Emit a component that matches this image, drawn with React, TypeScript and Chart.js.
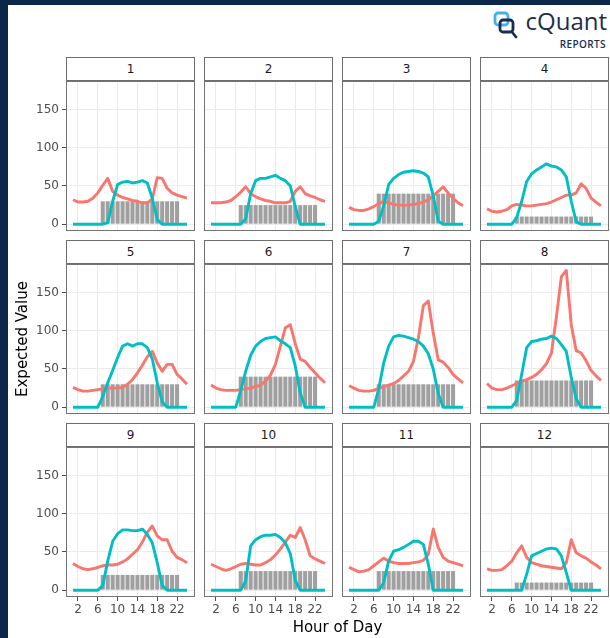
import React, { useEffect, useRef } from "react";
import { Chart, registerables } from "chart.js";

Chart.register(...registerables);

const FONT = "'DejaVu Sans', 'Liberation Sans', sans-serif";

// ---------- data ----------
const HOURS = [1, 2, 3, 4, 5, 6, 7, 8, 9, 10, 11, 12, 13, 14, 15, 16, 17, 18, 19, 20, 21, 22, 23, 24];
const BAR_HOURS = [7, 8, 9, 10, 11, 12, 13, 14, 15, 16, 17, 18, 19, 20, 21, 22];
const X_TICKS = [2, 6, 10, 14, 18, 22];
const Y_TICKS = [0, 50, 100, 150];
const PANEL_LABELS = ["1", "2", "3", "4", "5", "6", "7", "8", "9", "10", "11", "12"];
const BAR_LEVEL = [30, 25, 40, 10, 30, 40, 30, 35, 20, 25, 25, 10];

const red01 = [32, 29, 29, 30, 34, 41, 51, 60, 43, 38, 35, 33, 31, 30, 28, 28, 33, 61, 60, 47, 41, 38, 36, 34];
const red02 = [28, 28, 28, 29, 31, 36, 42, 49, 40, 36, 33, 31, 30, 28, 28, 28, 30, 43, 49, 40, 37, 35, 32, 30];
const red03 = [22, 19, 18, 18, 20, 23, 27, 30, 28, 26, 25, 25, 25, 26, 27, 29, 32, 37, 43, 49, 41, 34, 28, 24];
const red04 = [20, 17, 16, 17, 19, 24, 26, 25, 24, 24, 25, 26, 27, 29, 32, 35, 38, 38, 41, 53, 47, 34, 29, 24];
const red05 = [26, 23, 21, 21, 22, 23, 24, 25, 25, 25, 26, 30, 36, 45, 55, 66, 73, 58, 47, 56, 56, 43, 37, 30];
const red06 = [29, 25, 23, 22, 22, 22, 23, 24, 25, 27, 29, 34, 42, 56, 80, 104, 108, 83, 63, 60, 52, 45, 38, 32];
const red07 = [28, 25, 22, 21, 21, 22, 25, 27, 29, 31, 35, 41, 47, 60, 91, 133, 139, 97, 62, 59, 52, 43, 37, 32];
const red08 = [31, 25, 23, 23, 25, 28, 31, 34, 36, 39, 43, 49, 57, 71, 118, 171, 179, 108, 74, 71, 61, 48, 41, 35];
const red09 = [35, 31, 28, 27, 28, 30, 32, 33, 33, 34, 37, 41, 47, 53, 63, 76, 84, 71, 66, 66, 51, 43, 40, 36];
const red10 = [34, 31, 28, 26, 28, 31, 34, 35, 34, 33, 33, 36, 40, 46, 54, 63, 72, 69, 82, 66, 45, 41, 38, 35];
const red11 = [30, 27, 24, 25, 27, 32, 37, 42, 38, 36, 35, 35, 35, 36, 37, 39, 47, 80, 56, 43, 38, 36, 34, 32];
const red12 = [28, 26, 26, 27, 32, 38, 49, 58, 43, 36, 34, 32, 31, 30, 29, 28, 36, 66, 49, 45, 42, 37, 33, 28];

const teal01 = [0, 0, 0, 0, 0, 0, 0, 2, 30, 52, 55, 56, 54, 55, 57, 54, 34, 6, 0, 0, 0, 0, 0, 0];
const teal02 = [0, 0, 0, 0, 0, 0, 0, 7, 40, 57, 60, 60, 62, 64, 60, 57, 50, 23, 0, 0, 0, 0, 0, 0];
const teal03 = [0, 0, 0, 0, 0, 0, 4, 24, 52, 60, 65, 68, 69, 70, 69, 67, 62, 37, 4, 0, 0, 0, 0, 0];
const teal04 = [0, 0, 0, 0, 0, 0, 9, 30, 56, 66, 71, 75, 79, 76, 75, 71, 62, 30, 3, 0, 0, 0, 0, 0];
const teal05 = [0, 0, 0, 0, 0, 0, 14, 32, 48, 65, 80, 83, 80, 83, 83, 78, 63, 32, 7, 0, 0, 0, 0, 0];
const teal06 = [0, 0, 0, 0, 0, 0, 22, 47, 68, 80, 86, 90, 91, 92, 87, 83, 78, 54, 19, 0, 0, 0, 0, 0];
const teal07 = [0, 0, 0, 0, 0, 0, 24, 58, 80, 92, 94, 93, 91, 89, 86, 80, 70, 50, 18, 0, 0, 0, 0, 0];
const teal08 = [0, 0, 0, 0, 0, 0, 9, 43, 78, 86, 87, 89, 90, 93, 90, 82, 73, 39, 11, 0, 0, 0, 0, 0];
const teal09 = [0, 0, 0, 0, 0, 0, 6, 38, 64, 74, 79, 79, 78, 78, 80, 73, 62, 36, 6, 0, 0, 0, 0, 0];
const teal10 = [0, 0, 0, 0, 0, 0, 0, 12, 58, 66, 70, 72, 72, 73, 69, 62, 48, 13, 0, 0, 0, 0, 0, 0];
const teal11 = [0, 0, 0, 0, 0, 0, 0, 10, 38, 51, 53, 56, 60, 64, 64, 60, 34, 0, 0, 0, 0, 0, 0, 0];
const teal12 = [0, 0, 0, 0, 0, 0, 0, 0, 21, 45, 48, 51, 54, 55, 54, 45, 23, 0, 0, 0, 0, 0, 0, 0];

const RED_SERIES = [red01, red02, red03, red04, red05, red06, red07, red08, red09, red10, red11, red12];
const TEAL_SERIES = [teal01, teal02, teal03, teal04, teal05, teal06, teal07, teal08, teal09, teal10, teal11, teal12];

// ---------- layout ----------
const COL_LEFT = [66, 204, 342, 480];
const ROW_TOP = [81, 264, 447];
const PW = 129;
const PH = 150;
const STRIP_H = 24;
const YW = 44;
const XH = 24;

const NAVY = "#0c2749";
const LOGO_NAVY = "#1d2d50";

const panelBorder = {
  id: "panelBorder",
  afterDatasetsDraw(chart: any) {
    const { ctx, chartArea } = chart;
    const { left, top, right, bottom } = chartArea;
    ctx.save();
    ctx.strokeStyle = "#747474";
    ctx.lineWidth = 1;
    ctx.strokeRect(left + 0.5, top + 0.5, right - left - 1, bottom - top - 1);
    ctx.restore();
  },
};

function Panel({ idx }: { idx: number }) {
  const ref = useRef<HTMLCanvasElement>(null);
  const row = Math.floor(idx / 4);
  const col = idx % 4;
  const showY = col === 0;
  const showX = row === 2;
  const w = PW + (showY ? YW : 0);
  const h = PH + (showX ? XH : 0);

  useEffect(() => {
    const canvas = ref.current;
    if (!canvas) return;
    const chart = new Chart(canvas, {
      type: "line",
      data: {
        datasets: [
          {
            type: "line",
            label: "teal",
            data: HOURS.map((hr, i) => ({ x: hr, y: TEAL_SERIES[idx][i] })),
            borderColor: "#00BFC4",
            borderWidth: 2.9,
            pointRadius: 0,
            tension: 0,
            fill: false,
            borderJoinStyle: "round",
            order: 0,
          },
          {
            type: "line",
            label: "red",
            data: HOURS.map((hr, i) => ({ x: hr, y: RED_SERIES[idx][i] })),
            borderColor: "#F8766D",
            borderWidth: 2.9,
            pointRadius: 0,
            tension: 0,
            fill: false,
            borderJoinStyle: "round",
            order: 1,
          },
          {
            type: "bar",
            label: "bars",
            data: BAR_HOURS.map((hr) => ({ x: hr, y: BAR_LEVEL[idx] })),
            backgroundColor: "#a0a0a0",
            borderWidth: 0,
            barPercentage: 0.82,
            categoryPercentage: 1,
            order: 2,
          },
        ],
      } as any,
      options: {
        animation: false,
        responsive: false,
        maintainAspectRatio: false,
        events: [],
        layout: { padding: 0, autoPadding: false } as any,
        plugins: {
          legend: { display: false },
          tooltip: { enabled: false },
          title: { display: false },
        },
        scales: {
          x: {
            type: "linear",
            min: -0.42,
            max: 25.62,
            offset: false,
            afterBuildTicks: (s: any) => {
              s.ticks = X_TICKS.map((v) => ({ value: v }));
            },
            grid: {
              color: "#ebebeb",
              lineWidth: 1,
              offset: false,
              drawTicks: showX,
              tickLength: 4,
              tickColor: "#4d4d4d",
              tickWidth: 1,
            },
            border: { display: false },
            ticks: {
              display: showX,
              color: "#4d4d4d",
              font: { family: FONT, size: 12 },
              padding: 2,
              maxRotation: 0,
              autoSkip: false,
            },
            afterFit: (s: any) => {
              s.height = showX ? XH : 0;
              s.paddingLeft = 0;
              s.paddingRight = 0;
            },
          },
          y: {
            type: "linear",
            min: -8.93,
            max: 187.5,
            afterBuildTicks: (s: any) => {
              s.ticks = Y_TICKS.map((v) => ({ value: v }));
            },
            grid: {
              color: "#ebebeb",
              lineWidth: 1,
              drawTicks: showY,
              tickLength: 4,
              tickColor: "#4d4d4d",
              tickWidth: 1,
            },
            border: { display: false },
            ticks: {
              display: showY,
              color: "#4d4d4d",
              font: { family: FONT, size: 12 },
              padding: 3,
              autoSkip: false,
            },
            afterFit: (s: any) => {
              s.width = showY ? YW : 0;
              s.paddingTop = 0;
              s.paddingBottom = 0;
            },
          },
        },
      } as any,
      plugins: [panelBorder],
    });
    return () => chart.destroy();
  }, [idx]);

  return (
    <>
      <div
        style={{
          position: "absolute",
          left: COL_LEFT[col],
          top: ROW_TOP[row] - STRIP_H,
          width: PW,
          height: STRIP_H,
          boxSizing: "border-box",
          border: "1px solid #6e6e6e",
          background: "#ffffff",
          color: "#1a1a1a",
          font: `12px ${FONT}`,
          display: "flex",
          alignItems: "center",
          justifyContent: "center",
        }}
      >
        {PANEL_LABELS[idx]}
      </div>
      <canvas
        ref={ref}
        width={w}
        height={h}
        style={{
          position: "absolute",
          left: COL_LEFT[col] - (showY ? YW : 0),
          top: ROW_TOP[row],
          width: w,
          height: h,
        }}
      />
    </>
  );
}

export default function App() {
  return (
    <div
      style={{
        position: "fixed",
        left: 0,
        top: 0,
        width: 610,
        height: 638,
        background: NAVY,
        overflow: "hidden",
      }}
    >
      <div
        style={{
          position: "absolute",
          left: 8,
          top: 5,
          width: 602,
          height: 633,
          background: "#ffffff",
        }}
      />
      {/* logo */}
      <svg
        width={30}
        height={32}
        viewBox="0 0 30 32"
        style={{ position: "absolute", left: 490, top: 8 }}
      >
        <rect x={5} y={5} width={13} height={12} rx={3} fill="none" stroke="#45b0e6" strokeWidth={2.8} />
        <rect x={10} y={12} width={13} height={12} rx={3} fill="none" stroke={LOGO_NAVY} strokeWidth={2.8} />
        <line x1={22} y1={24} x2={26} y2={29} stroke={LOGO_NAVY} strokeWidth={2.8} strokeLinecap="round" />
      </svg>
      <div
        style={{
          position: "absolute",
          right: 3,
          top: 5,
          font: `24px 'Open Sans', sans-serif`,
          lineHeight: "32px",
          color: LOGO_NAVY,
          whiteSpace: "nowrap",
        }}
      >
        cQuant
      </div>
      <div
        style={{
          position: "absolute",
          right: 4,
          top: 37,
          font: `600 10px 'Open Sans', sans-serif`,
          lineHeight: "14px",
          letterSpacing: "0.4px",
          color: LOGO_NAVY,
          whiteSpace: "nowrap",
        }}
      >
        REPORTS
      </div>

      {PANEL_LABELS.map((_, i) => (
        <Panel key={i} idx={i} />
      ))}

      {/* axis titles */}
      <div
        style={{
          position: "absolute",
          left: 66,
          width: 543,
          top: 618,
          textAlign: "center",
          font: `15px ${FONT}`,
          color: "#000000",
          whiteSpace: "nowrap",
        }}
      >
        Hour of Day
      </div>
      <div
        style={{
          position: "absolute",
          left: 22,
          top: 339,
          transform: "translate(-50%, -50%) rotate(-90deg)",
          font: `15px ${FONT}`,
          color: "#000000",
          whiteSpace: "nowrap",
        }}
      >
        Expected Value
      </div>
    </div>
  );
}
